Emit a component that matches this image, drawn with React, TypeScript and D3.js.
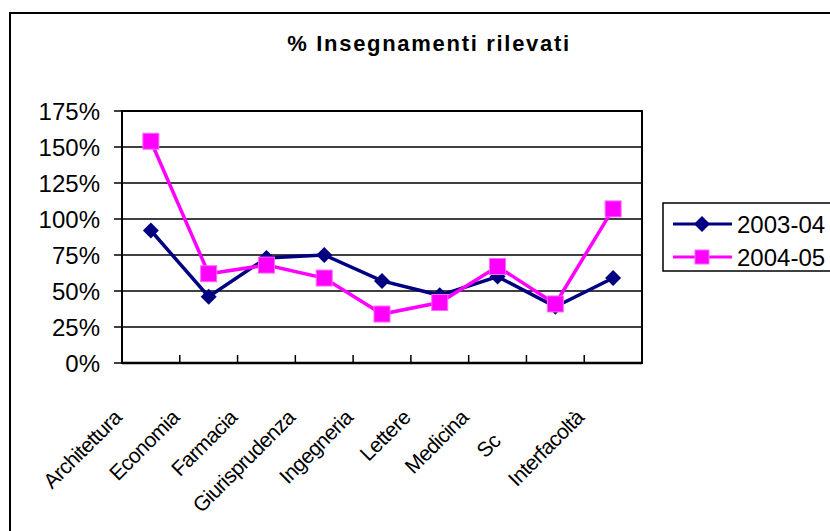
import React from 'react';
import * as d3 from 'd3';

// dati
const categories = ['Architettura', 'Economia', 'Farmacia', 'Giurisprudenza', 'Ingegneria', 'Lettere', 'Medicina', 'Sc', 'Interfacoltà'];
const serie0304 = [92, 46, 73, 75, 57, 47, 60, 39, 59];
const serie0405 = [154, 62, 68, 59, 34, 42, 67, 41, 107];
const yTicks = [0, 25, 50, 75, 100, 125, 150, 175];
const seriesNames = ['2003-04', '2004-05'];

const W = 830, H = 531;
const plot = {left: 122, right: 642, top: 111, bottom: 363};

const App = () => {
    const x = d3.scaleBand().domain(categories).range([plot.left, plot.right]);
    const y = d3.scaleLinear().domain([0, 175]).range([plot.bottom, plot.top]);
    const cx = (i: number) => x(categories[i])! + x.bandwidth() / 2;

    const line = d3.line<number>()
        .x((d, i) => cx(i))
        .y(d => y(d));

    const font = 'Liberation Sans, Arial, sans-serif';
    const diamond = (px: number, py: number, r: number) =>
        `M${px},${py - r}L${px + r},${py}L${px},${py + r}L${px - r},${py}Z`;

    return (
        <svg width={W} height={H} style={{position: 'absolute', left: 0, top: 0}} fontFamily={font}>
            <rect x={0} y={0} width={W} height={H} fill="#fff"/>
            <rect x={10} y={13} width={W + 20} height={H + 20} fill="#fff" stroke="#000" strokeWidth={2}/>
            <text x={429} y={51} textAnchor="middle" fontSize={22} fontWeight="bold" letterSpacing={1.7}>% Insegnamenti rilevati</text>

            {/* griglia e asse y */}
            {yTicks.map(t => (
                <g key={t}>
                    <line x1={plot.left} x2={plot.right} y1={y(t)} y2={y(t)} stroke="#000" strokeWidth={1.5}/>
                    <line x1={plot.left - 8} x2={plot.left} y1={y(t)} y2={y(t)} stroke="#000" strokeWidth={1.5}/>
                    <text x={100} y={y(t)} dy="0.36em" textAnchor="end" fontSize={24}>{t}%</text>
                </g>
            ))}
            <rect x={plot.left} y={plot.top} width={plot.right - plot.left} height={plot.bottom - plot.top}
                  fill="none" stroke="#000" strokeWidth={2}/>
            {categories.map(c => (
                <line key={c} x1={x(c)!} x2={x(c)!} y1={plot.bottom} y2={plot.bottom - 8} stroke="#000" strokeWidth={1.5}/>
            ))}
            <line x1={plot.left} x2={plot.right} y1={plot.bottom} y2={plot.bottom} stroke="#000" strokeWidth={2.5}/>

            {/* etichette categorie (la "Sc" è troncata nell'originale) */}
            {categories.map((c, i) => {
                const trunc = c === 'Sc';
                const lx = trunc ? cx(i) - 70 : cx(i) - 28;
                const ly = trunc ? plot.bottom + 96 : plot.bottom + 56;
                return (
                    <text key={c} x={lx} y={ly} textAnchor={trunc ? 'start' : 'end'} fontSize={21} letterSpacing={-0.6}
                          transform={`rotate(-45 ${lx} ${ly})`}>{c}</text>
                );
            })}

            {/* serie */}
            <path d={line(serie0304)!} fill="none" stroke="#000080" strokeWidth={3.5}/>
            {serie0304.map((v, i) => (
                <path key={i} d={diamond(cx(i), y(v), 8)} fill="#000080"/>
            ))}
            <path d={line(serie0405)!} fill="none" stroke="#FF00FF" strokeWidth={3.5}/>
            {serie0405.map((v, i) => (
                <rect key={i} x={cx(i) - 8} y={y(v) - 8} width={16} height={16}
                      fill="#FF00FF" stroke="#FF66FF" strokeWidth={1}/>
            ))}

            {/* legenda */}
            <rect x={663} y={203} width={200} height={68} fill="#fff" stroke="#000" strokeWidth={1.5}/>
            {seriesNames.map((s, i) => {
                const ly = 224 + i * 33;
                return (
                    <g key={s}>
                        <line x1={673} x2={732} y1={ly} y2={ly} stroke={i === 0 ? '#000080' : '#FF00FF'} strokeWidth={3}/>
                        {i === 0
                            ? <path d={diamond(702, ly, 8)} fill="#000080"/>
                            : <rect x={695} y={ly - 7} width={14} height={14} fill="#FF00FF" stroke="#FF66FF"/>}
                        <text x={737} y={ly} dy="0.36em" fontSize={24}>{s}</text>
                    </g>
                );
            })}
        </svg>
    );
};

export default App;
